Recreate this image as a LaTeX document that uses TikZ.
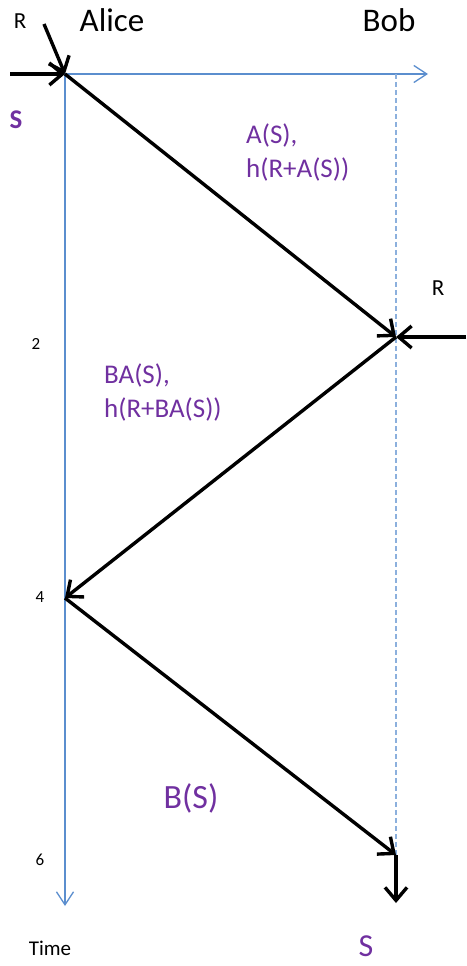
\documentclass[tikz,border=0pt]{standalone}
\usepackage{fontspec}
\setmainfont{Carlito}
\usetikzlibrary{arrows.meta}
\definecolor{axisblue}{RGB}{91,142,206}
\definecolor{msgpurple}{RGB}{112,48,160}
\tikzset{
  axis/.style={axisblue, line width=1.3pt, -{Straight Barb[length=13pt,width=17pt,line width=1.3pt]}},
  lifeline/.style={axisblue!70, line width=1.2pt, dash pattern=on 5pt off 3pt},
  msg/.style={line width=3.4pt, -{Straight Barb[length=13pt,width=22pt,line width=3.4pt]}},
  msglabel/.style={text=msgpurple, font=\fontsize{27}{34}\selectfont, align=left, inner sep=0pt},
  who/.style={font=\fontsize{33}{40}\selectfont, inner sep=0pt},
  tick/.style={font=\fontsize{17}{20}\selectfont, inner sep=0pt}
}
\begin{document}
\begin{tikzpicture}[x=1pt,y=-1pt]
\useasboundingbox (0,0) rectangle (466,966);
% points on the two time lines
\coordinate (a0) at (65,74);
\coordinate (b1) at (396,337);
\coordinate (a2) at (65,598);
\coordinate (b3) at (396,855);
\coordinate (aend) at (65,906);
\coordinate (bend) at (396,903);
\coordinate (btop) at (396,74);
\coordinate (xend) at (428,74);
\coordinate (inS) at (10,74);
\coordinate (inR) at (44,24);
\coordinate (inRb) at (466,337);
% axes
\draw[axis] (a0) -- (xend);
\draw[axis] (a0) -- (aend);
\draw[lifeline] (btop) -- (b3);
% inputs
\draw[msg] (inS) -- (a0);
\draw[msg] (inR) -- (a0);
\draw[msg] (inRb) -- (b1);
% messages
\draw[msg] (a0) -- (b1);
\draw[msg] (b1) -- (a2);
\draw[msg] (a2) -- (b3);
\draw[msg] (b3) -- (bend);
% names
\node[who] (alice) at (112,20) {Alice};
\node[who] (bob) at (389,20) {Bob};
\node[font=\fontsize{23}{26}\selectfont, inner sep=0pt] (rA) at (20,21) {R};
\node[font=\fontsize{23}{26}\selectfont, inner sep=0pt] (rB) at (438,288) {R};
\node[text=msgpurple, font=\bfseries\fontsize{27}{30}\selectfont, inner sep=0pt] (sA) at (16,120) {S};
\node[text=msgpurple, font=\fontsize{32}{38}\selectfont, inner sep=0pt] (sB) at (366,946) {S};
% message labels
\node[msglabel, anchor=north west] (lab1) at (246,124) {A(S),\\h(R+A(S))};
\node[msglabel, anchor=north west] (lab2) at (104,364) {BA(S),\\h(R+BA(S))};
\node[msglabel, font=\fontsize{34}{40}\selectfont] (lab3) at (191,798) {B(S)};
% time ticks
\node[tick] (t2) at (36,344) {2};
\node[tick] (t4) at (40,597) {4};
\node[tick] (t6) at (40,860) {6};
\node[font=\fontsize{21}{24}\selectfont, inner sep=0pt] (time) at (50,948) {Time};
\end{tikzpicture}
\end{document}
